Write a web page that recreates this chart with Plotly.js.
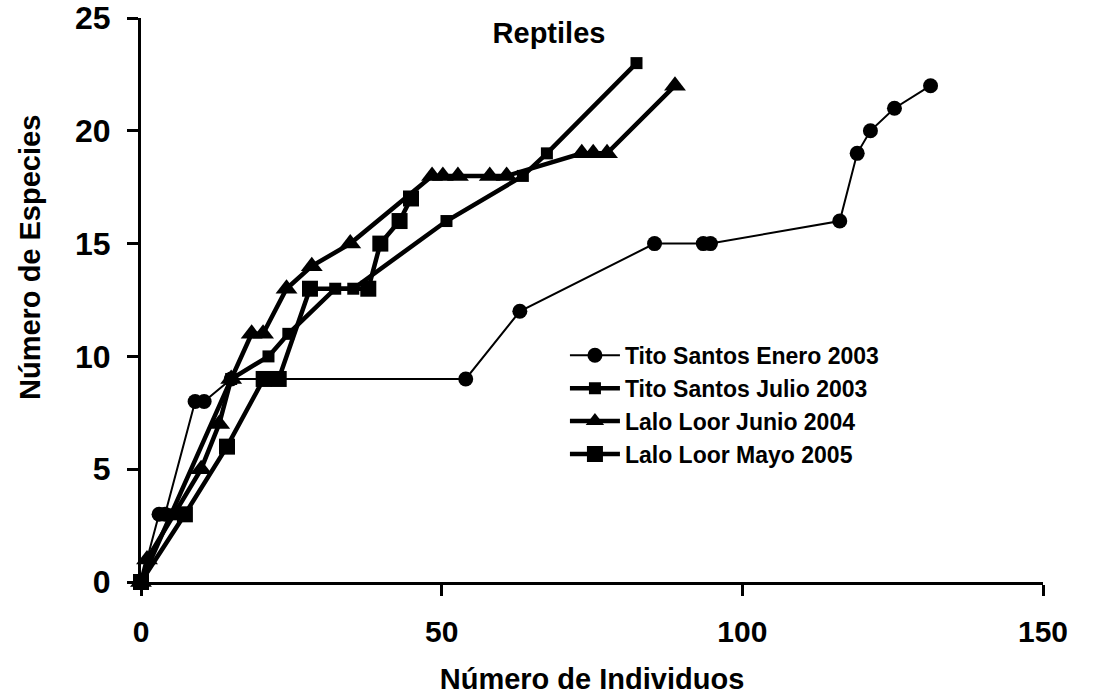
<!DOCTYPE html>
<html><head><meta charset="utf-8">
<script src="https://cdn.plot.ly/plotly-3.0.1.min.js"></script>
<style>html,body{margin:0;padding:0;background:#fff;}#chart{width:1099px;height:700px;}</style>
</head><body><div id="chart"></div>
<script>
const FONT = 'Liberation Sans, Arial, Helvetica, sans-serif';

const chartTitle = 'Reptiles';
const xAxisTitle = 'Número de Individuos';
const yAxisTitle = 'Número de Especies';
const xTickVals = [0, 50, 100, 150];
const yTickVals = [0, 5, 10, 15, 20, 25];

const seriesNames = ['Tito Santos Enero 2003', 'Tito Santos Julio 2003', 'Lalo Loor Junio 2004', 'Lalo Loor Mayo 2005'];

const enero2003X = [0, 3, 4, 9, 10.5, 15, 54, 63, 85.4, 93.5, 94.7, 116.2, 119.1, 121.3, 125.3, 131.3];
const enero2003Y = [0, 3, 3, 8, 8, 9, 9, 12, 15, 15, 15, 16, 19, 20, 21, 22];

const julio2003X = [0, 5, 15, 21.2, 24.5, 32.3, 35.3, 50.8, 63.5, 67.5, 82.4];
const julio2003Y = [0, 3, 9, 10, 11, 13, 13, 16, 18, 19, 23];

const junio2004X = [0, 1, 10, 13, 15, 18.4, 20.3, 24.2, 28.4, 34.8, 48.4, 50.2, 52.7, 58, 60.8, 73.3, 75.2, 77.5, 88.8];
const junio2004Y = [0, 1, 5, 7, 9, 11, 11, 13, 14, 15, 18, 18, 18, 18, 18, 19, 19, 19, 22];

const mayo2005X = [0, 7.3, 14.3, 20.4, 22.9, 28.1, 37.8, 39.8, 43, 44.9];
const mayo2005Y = [0, 3, 6, 9, 9, 13, 13, 15, 16, 17];

function mk(name, x, y, symbol, size, lw, grp) {
  return {
    type: 'scatter', mode: 'lines+markers', name: name, x: x, y: y,
    legendgroup: grp, cliponaxis: false,
    line: {color: '#000', width: lw},
    marker: {color: '#000', symbol: symbol, size: size, line: {width: 0}}
  };
}

const data = [
  mk(seriesNames[0], enero2003X, enero2003Y, 'circle', 15, 2, 'a'),
  mk(seriesNames[1], julio2003X, julio2003Y, 'square', 12, 4.5, 'b'),
  mk(seriesNames[2], junio2004X, junio2004Y, 'triangle-up', 19, 4.5, 'c'),
  mk(seriesNames[3], mayo2005X, mayo2005Y, 'square', 16, 4.5, 'd')
];

const bold = (s) => ({family: FONT, size: s, color: '#000', weight: 700});

const layout = {
  width: 1099, height: 700,
  paper_bgcolor: '#fff', plot_bgcolor: '#fff',
  margin: {l: 141, r: 56, t: 18, b: 118},
  title: {text: chartTitle, font: bold(29), x: 549/1099, xanchor: 'center', y: 1 - 33/700, yanchor: 'middle'},
  xaxis: {
    range: [0, 150], tickvals: xTickVals, showgrid: false, zeroline: false,
    showline: true, linecolor: '#000', linewidth: 3,
    ticks: 'outside', ticklen: 11, tickwidth: 3, tickcolor: '#000',
    tickfont: bold(30), ticklabelstandoff: 10,
    title: {text: xAxisTitle, font: bold(29), standoff: 22}
  },
  yaxis: {
    range: [0, 25], tickvals: yTickVals, showgrid: false, zeroline: false,
    showline: true, linecolor: '#000', linewidth: 3,
    ticks: 'outside', ticklen: 11, tickwidth: 3, tickcolor: '#000',
    tickfont: bold(32), ticklabelstandoff: 10
  },
  annotations: [{
    text: yAxisTitle, font: bold(29), textangle: -90,
    xref: 'paper', yref: 'paper', x: (30 - 141) / 902, y: (582 - 258) / 564,
    xanchor: 'center', yanchor: 'middle', showarrow: false
  }],
  showlegend: true,
  legend: {
    x: 0.47, y: 0.44, xanchor: 'left', yanchor: 'top',
    font: bold(23), bgcolor: 'rgba(0,0,0,0)', borderwidth: 0,
    traceorder: 'grouped', tracegroupgap: 0, itemwidth: 50
  }
};

Plotly.newPlot('chart', data, layout, {staticPlot: true});
</script>
</body></html>
